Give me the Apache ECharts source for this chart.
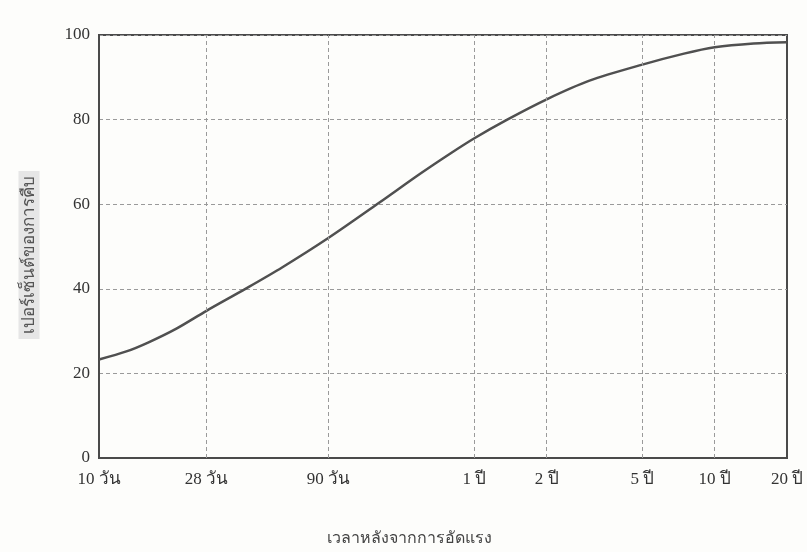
<!DOCTYPE html>
<html>
<head>
<meta charset="utf-8">
<script src="https://cdn.jsdelivr.net/npm/echarts@6/dist/echarts.min.js"></script>
<style>html,body{margin:0;padding:0;background:#fdfdfb;}#c{width:807px;height:552px;}</style>
</head>
<body>
<div id="c"></div>
<script>
// Data (days after prestressing -> percent of creep)
const curveDays = [10, 13, 16, 21, 28, 41, 58, 90, 147, 217, 290, 365, 500, 730, 1100, 1825, 2720, 3650, 5300, 7300];
const creepPercent = [23.3, 25.2, 27.3, 30.6, 34.8, 40.1, 45.1, 52, 60.4, 67.2, 72.0, 75.6, 80, 84.8, 89.2, 93, 95.6, 97.1, 98, 98.3];
const tickDays = [10, 28, 90, 365, 730, 1825, 3650, 7300];
const tickLabels = ['10 วัน', '28 วัน', '90 วัน', '1 ปี', '2 ปี', '5 ปี', '10 ปี', '20 ปี'];
const gridDays = [28, 90, 365, 730, 1825, 3650];
const yTicks = [0, 20, 40, 60, 80, 100];
const xName = 'เวลาหลังจากการอัดแรง';
const yName = 'เปอร์เซ็นต์ของการคืบ';

const chart = echarts.init(document.getElementById('c'));
function labelFor(v) {
  let best = 0, bd = Infinity;
  tickDays.forEach((d, i) => { const dd = Math.abs(Math.log(d) - Math.log(v)); if (dd < bd) { bd = dd; best = i; } });
  return tickLabels[best];
}
const serif = '"Liberation Serif", "DejaVu Serif", serif';
chart.setOption({
  backgroundColor: '#fdfdfb',
  animation: false,
  grid: { left: 99, right: 20, top: 35, bottom: 94, show: true, borderColor: '#4a4a4a', borderWidth: 2, backgroundColor: 'transparent' },
  xAxis: {
    type: 'log', logBase: 10, min: 10, max: 7300,
    axisLine: { show: true, lineStyle: { color: '#4a4a4a', width: 2 } },
    axisTick: { show: false, customValues: tickDays },
    splitLine: { show: false },
    minorSplitLine: { show: false },
    axisLabel: { customValues: tickDays, formatter: v => labelFor(v), fontFamily: serif, fontSize: 17, color: '#333', margin: 13 }
  },
  yAxis: {
    type: 'value', min: 0, max: 100, interval: 20,
    axisLine: { show: true, lineStyle: { color: '#4a4a4a', width: 2 } },
    axisTick: { show: false },
    splitLine: { show: true, lineStyle: { color: '#9a9a9a', type: [4, 3], width: 1 } },
    axisLabel: { customValues: yTicks, fontFamily: serif, fontSize: 17, color: '#333', margin: 9 }
  },
  graphic: [
    { type: 'text', left: 327, top: 530, style: { text: xName, fontSize: 16, fill: '#444', fontFamily: '"Noto Sans", "DejaVu Sans", sans-serif' } },
    { type: 'text', x: 29, y: 255, rotation: Math.PI / 2, style: { text: yName, fontSize: 17, fill: '#555', align: 'center', verticalAlign: 'middle', backgroundColor: '#e6e6e6', padding: [2, 5], fontFamily: '"Noto Sans", "DejaVu Sans", sans-serif' } }
  ],
  series: [
    {
      type: 'line', data: curveDays.map((d, i) => [d, creepPercent[i]]),
      smooth: 0.3, showSymbol: false, lineStyle: { color: '#505050', width: 2.5 },
      markLine: {
        silent: true, symbol: 'none', label: { show: false },
        lineStyle: { color: '#9a9a9a', type: [4, 3], width: 1 },
        data: gridDays.map(d => ({ xAxis: d }))
      }
    }
  ]
});
</script>
</body>
</html>
